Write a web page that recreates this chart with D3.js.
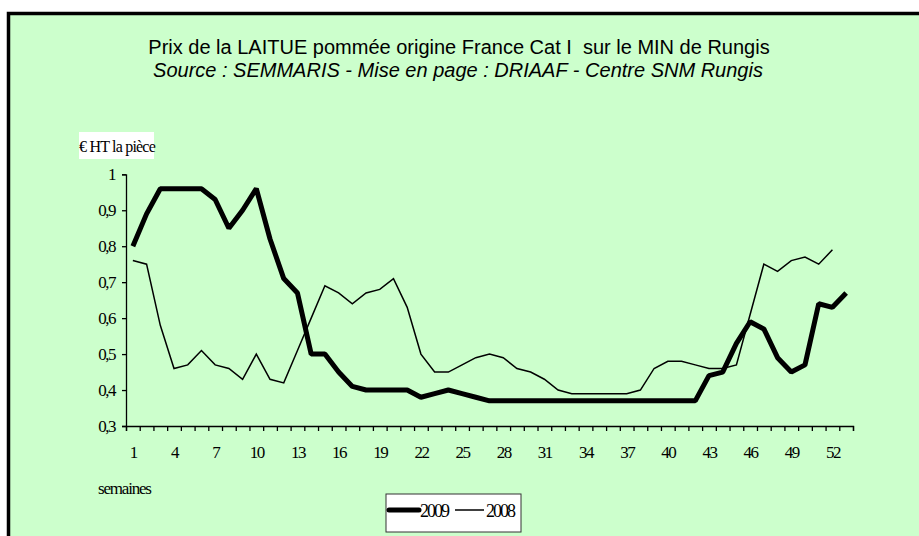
<html>
<head>
    <title>Laitue Rungis</title>
    <script src="https://d3js.org/d3.v7.min.js"></script>
    <style>
        body { margin: 0; background: #ffffff; }
        svg text { fill: #000; }
    </style>
</head>
<body>
    <svg id="chart" width="919" height="536"></svg>

    <script>
        // weeks and prices (EUR HT per piece)
        const weeks2009 = d3.range(1, 54);
        const weeks2008 = d3.range(1, 53);
        const prix2009 = [0.80, 0.89, 0.96, 0.96, 0.96, 0.96, 0.93, 0.85, 0.90, 0.96,
                          0.82, 0.71, 0.67, 0.50, 0.50, 0.45, 0.41, 0.40, 0.40, 0.40,
                          0.40, 0.38, 0.39, 0.40, 0.39, 0.38, 0.37, 0.37, 0.37, 0.37,
                          0.37, 0.37, 0.37, 0.37, 0.37, 0.37, 0.37, 0.37, 0.37, 0.37,
                          0.37, 0.37, 0.44, 0.45, 0.53, 0.59, 0.57, 0.49, 0.45, 0.47,
                          0.64, 0.63, 0.67];
        const prix2008 = [0.76, 0.75, 0.58, 0.46, 0.47, 0.51, 0.47, 0.46, 0.43, 0.50,
                          0.43, 0.42, 0.51, 0.60, 0.69, 0.67, 0.64, 0.67, 0.68, 0.71,
                          0.63, 0.50, 0.45, 0.45, 0.47, 0.49, 0.50, 0.49, 0.46, 0.45,
                          0.43, 0.40, 0.39, 0.39, 0.39, 0.39, 0.39, 0.40, 0.46, 0.48,
                          0.48, 0.47, 0.46, 0.46, 0.47, 0.61, 0.75, 0.73, 0.76, 0.77,
                          0.75, 0.79];
        const yTicks = [0.3, 0.4, 0.5, 0.6, 0.7, 0.8, 0.9, 1];
        const xLabels = d3.range(1, 54, 3);

        const svg = d3.select("#chart");
        const serif = "'Liberation Serif', 'Times New Roman', serif";
        const sans = "'Liberation Sans', Arial, sans-serif";

        // panel
        svg.append("rect")
            .attr("x", 8.5).attr("y", 13.5)
            .attr("width", 960).attr("height", 600)
            .attr("fill", "#ccffcc")
            .attr("stroke", "#000")
            .attr("stroke-width", 3.5);

        // titles
        svg.append("text")
            .attr("x", 459).attr("y", 54)
            .attr("text-anchor", "middle")
            .attr("xml:space", "preserve")
            .style("font-family", sans).style("font-size", "20px")
            .text("Prix de la LAITUE pommée origine France Cat I  sur le MIN de Rungis");
        svg.append("text")
            .attr("x", 458).attr("y", 77)
            .attr("text-anchor", "middle")
            .style("font-family", sans).style("font-size", "20px")
            .style("font-style", "italic")
            .text("Source : SEMMARIS - Mise en page : DRIAAF - Centre SNM Rungis");

        const x = d3.scaleLinear().domain([0.5, 53.5]).range([126, 853]);
        const y = d3.scaleLinear().domain([0.3, 1]).range([426, 174.3]);

        // unit label
        svg.append("rect")
            .attr("x", 79).attr("y", 132)
            .attr("width", 75).attr("height", 27)
            .attr("fill", "#fff");
        svg.append("text")
            .attr("x", 79).attr("y", 152)
            .style("font-family", serif).style("font-size", "16px")
            .style("letter-spacing", "-0.8px")
            .text("€ HT la pièce");

        // y axis
        const yAxis = svg.append("g")
            .attr("transform", "translate(126,0)")
            .call(d3.axisLeft(y).tickValues(yTicks).tickSize(4).tickPadding(7)
                .tickFormat(d => d === 1 ? "1" : d.toFixed(1).replace(".", ",")));
        yAxis.select(".domain").attr("stroke", "#000").attr("stroke-width", 1.3);
        yAxis.selectAll(".tick line").attr("stroke", "#000").attr("stroke-width", 1.3);
        yAxis.selectAll("text")
            .style("font-family", serif).style("font-size", "17px")
            .style("letter-spacing", "-1.5px").attr("fill", "#000");

        // x axis: ticks between weeks
        const xAxis = svg.append("g")
            .attr("transform", "translate(0,426)")
            .call(d3.axisBottom(x).tickValues(d3.range(0.5, 54, 1)).tickSize(5).tickFormat(""));
        xAxis.select(".domain").attr("stroke", "#000").attr("stroke-width", 1.3);
        xAxis.selectAll(".tick line").attr("stroke", "#000").attr("stroke-width", 1.3);

        const xLab = svg.append("g")
            .attr("transform", "translate(0,426)")
            .call(d3.axisBottom(x).tickValues(xLabels).tickSize(0).tickPadding(20).tickFormat(d3.format("d")));
        xLab.select(".domain").remove();
        xLab.selectAll("text")
            .style("font-family", serif).style("font-size", "17px")
            .style("letter-spacing", "-1.5px").attr("fill", "#000");

        svg.append("text")
            .attr("x", 98).attr("y", 494)
            .style("font-family", serif).style("font-size", "17px")
            .style("letter-spacing", "-1.2px")
            .text("semaines");

        // lines
        const line = d3.line().x(d => x(d[0])).y(d => y(d[1]));
        svg.append("path")
            .datum(weeks2008.map((w, i) => [w, prix2008[i]]))
            .attr("d", line)
            .attr("fill", "none").attr("stroke", "#000").attr("stroke-width", 1.5);
        svg.append("path")
            .datum(weeks2009.map((w, i) => [w, prix2009[i]]))
            .attr("d", line)
            .attr("fill", "none").attr("stroke", "#000").attr("stroke-width", 5)
            .attr("stroke-linejoin", "bevel");

        // legend
        const lg = svg.append("g").attr("transform", "translate(386,494)");
        lg.append("rect")
            .attr("width", 135).attr("height", 38)
            .attr("fill", "#fff").attr("stroke", "#333").attr("stroke-width", 1);
        lg.append("line")
            .attr("x1", 3).attr("x2", 33).attr("y1", 16).attr("y2", 16)
            .attr("stroke", "#000").attr("stroke-width", 5).attr("stroke-linecap", "round");
        lg.append("text").attr("x", 34).attr("y", 23)
            .style("font-family", serif).style("font-size", "18px")
            .style("letter-spacing", "-2px").text("2009");
        lg.append("line")
            .attr("x1", 69).attr("x2", 98).attr("y1", 16).attr("y2", 16)
            .attr("stroke", "#000").attr("stroke-width", 1.5);
        lg.append("text").attr("x", 100).attr("y", 23)
            .style("font-family", serif).style("font-size", "18px")
            .style("letter-spacing", "-2px").text("2008");
    </script>
</body>
</html>
